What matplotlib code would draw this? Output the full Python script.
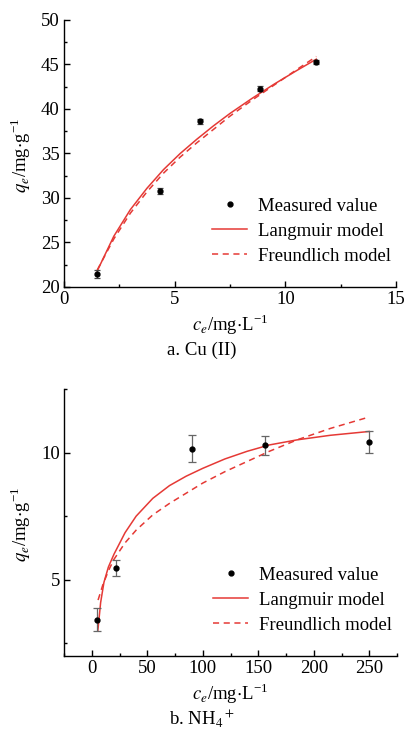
import numpy as np
import matplotlib
matplotlib.use("Agg")
import matplotlib.pyplot as plt
from matplotlib.ticker import MultipleLocator
from matplotlib.lines import Line2D

plt.rcParams['font.family'] = 'serif'
plt.rcParams['font.serif'] = ['Liberation Serif', 'DejaVu Serif']
plt.rcParams['mathtext.fontset'] = 'stix'

# ---- a. Cu (II) ----
cu_ce = [1.51, 4.34, 6.13, 8.87, 11.4]
cu_qe = [21.5, 30.8, 38.6, 42.3, 45.3]
cu_err = [0.45, 0.3, 0.3, 0.3, 0.25]

cu_lang_c = [1.5, 2.25, 3.0, 3.75, 4.5, 5.25, 6.0, 6.75, 7.5, 8.5, 9.5, 10.5, 11.4]
cu_lang_q = [21.8, 25.7, 28.7, 31.1, 33.2, 35.0, 36.6, 38.1, 39.5, 41.2, 42.8, 44.3, 45.6]
cu_freu_c = [1.5, 2.25, 3.0, 3.75, 4.5, 5.25, 6.0, 6.75, 7.5, 8.5, 9.5, 10.5, 11.4]
cu_freu_q = [21.9, 25.4, 28.3, 30.7, 32.8, 34.6, 36.2, 37.7, 39.2, 41.0, 42.7, 44.4, 45.9]

# ---- b. NH4+ ----
nh_ce = [5.1, 21.9, 90.2, 156.2, 250]
nh_qe = [3.43, 5.46, 10.16, 10.28, 10.43]
nh_err = [0.44, 0.33, 0.54, 0.37, 0.43]

nh_lang_c = [5.5, 8, 11, 15, 20, 30, 40, 55, 70, 85, 100, 120, 140, 160, 185, 215, 250]
nh_lang_q = [3.0, 4.1, 4.9, 5.5, 6.0, 6.85, 7.5, 8.2, 8.7, 9.07, 9.38, 9.75, 10.05, 10.3, 10.5, 10.68, 10.83]
nh_freu_c = [5.7, 10, 15, 20, 30, 40, 55, 70, 85, 100, 120, 140, 160, 185, 215, 250]
nh_freu_q = [4.2, 4.8, 5.35, 5.8, 6.45, 6.95, 7.55, 8.0, 8.4, 8.8, 9.25, 9.65, 10.05, 10.5, 10.95, 11.4]

red = '#e53935'

fig = plt.figure(figsize=(4.04, 7.32), dpi=100)
ax1 = fig.add_axes([64/404, 1-287/732, 332/404, 267/732])
ax2 = fig.add_axes([64/404, 1-656/732, 333/404, 267/732])


def style(ax):
  for s in ['top', 'right']:
    ax.spines[s].set_visible(False)
  for s in ['left', 'bottom']:
    ax.spines[s].set_linewidth(1.0)
  ax.tick_params(which='major', direction='in', length=4, width=1, labelsize=13.5, pad=3)
  ax.tick_params(which='minor', direction='in', length=2.5, width=1)


def add_legend(ax):
  handles = [Line2D([], [], linestyle='none', marker='o', color='black', markersize=3.5),
             Line2D([], [], color=red, linewidth=1.1),
             Line2D([], [], color=red, linewidth=1.1, linestyle='--', dashes=(4, 3))]
  labels = ['Measured value', 'Langmuir model', 'Freundlich model']
  ax.legend(handles, labels, loc='lower right', frameon=False,
            fontsize=13.5, handlelength=1.9, handletextpad=0.55, labelspacing=0.42,
            bbox_to_anchor=(1.035, 0.02))


# top plot
ax1.errorbar(cu_ce, cu_qe, yerr=cu_err, fmt='o', color='black', ecolor='#444444',
             markersize=3.5, capsize=2.5, elinewidth=0.9, capthick=0.9, zorder=3)
ax1.plot(cu_lang_c, cu_lang_q, '-', color=red, linewidth=1.1)
ax1.plot(cu_freu_c, cu_freu_q, '--', color=red, linewidth=1.1, dashes=(4, 3))
ax1.set_xlim(0, 15)
ax1.set_ylim(20, 50)
ax1.xaxis.set_major_locator(MultipleLocator(5))
ax1.xaxis.set_minor_locator(MultipleLocator(2.5))
ax1.yaxis.set_major_locator(MultipleLocator(5))
ax1.yaxis.set_minor_locator(MultipleLocator(2.5))
style(ax1)
ax1.set_xlabel(r'$c_e$/mg$\cdot$L$^{\mathregular{-1}}$', fontsize=13.5, labelpad=3)
ax1.set_ylabel(r'$q_e$/mg$\cdot$g$^{\mathregular{-1}}$', fontsize=13.5)
ax1.yaxis.set_label_coords(-0.093, 0.494)
add_legend(ax1)

# bottom plot
ax2.errorbar(nh_ce, nh_qe, yerr=nh_err, fmt='o', color='black', ecolor='#666666',
             markersize=3.5, capsize=3, elinewidth=0.9, capthick=0.9, zorder=3)
ax2.plot(nh_lang_c, nh_lang_q, '-', color=red, linewidth=1.1)
ax2.plot(nh_freu_c, nh_freu_q, '--', color=red, linewidth=1.1, dashes=(4, 3))
ax2.set_xlim(-25, 275)
ax2.set_ylim(2, 12.5)
ax2.xaxis.set_major_locator(MultipleLocator(50))
ax2.xaxis.set_minor_locator(MultipleLocator(25))
ax2.yaxis.set_major_locator(MultipleLocator(5))
ax2.yaxis.set_minor_locator(MultipleLocator(2.5))
style(ax2)
ax2.set_xlabel(r'$c_e$/mg$\cdot$L$^{\mathregular{-1}}$', fontsize=13.5, labelpad=3)
ax2.set_ylabel(r'$q_e$/mg$\cdot$g$^{\mathregular{-1}}$', fontsize=13.5)
ax2.yaxis.set_label_coords(-0.093, 0.494)
add_legend(ax2)

fig.text(0.5, 1-350/732, 'a. Cu (II)', ha='center', va='center', fontsize=13.5)
fig.text(0.5, 1-719/732, r'b. NH$_4$$^+$', ha='center', va='center', fontsize=13.5)

fig.savefig('out.png', dpi=100)
